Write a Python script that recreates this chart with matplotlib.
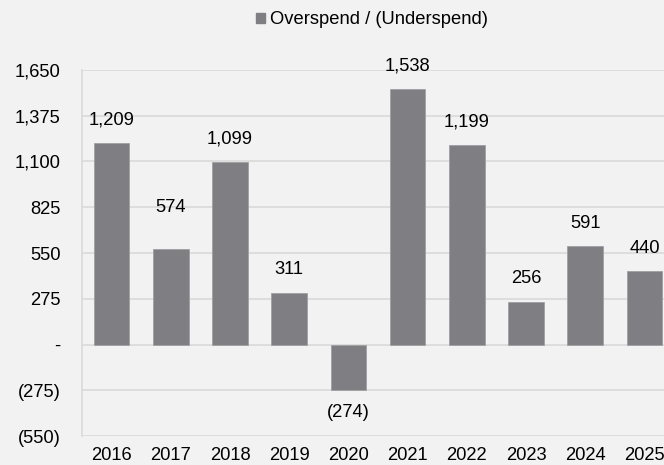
import matplotlib
matplotlib.use("Agg")
import matplotlib.pyplot as plt
from matplotlib.patches import Patch

years = ["2016", "2017", "2018", "2019", "2020", "2021", "2022", "2023", "2024", "2025"]
values = [1209, 574, 1099, 311, -274, 1538, 1199, 256, 591, 440]
yticks = [-550, -275, 0, 275, 550, 825, 1100, 1375, 1650]
series_name = "Overspend / (Underspend)"

def fmt(v):
    if v == 0:
        return "-"
    if v < 0:
        return "({:,})".format(-v)
    return "{:,}".format(v)

plt.rcParams['font.family'] = ['Liberation Sans', 'DejaVu Sans']
FS = 13.2
BG = "#f2f2f2"
BAR = "#7f7f83"
GRID = "#d9d9d9"

fig = plt.figure(figsize=(6.64, 4.65), dpi=100, facecolor=BG)
W, H = 664, 465
left, right = 82, 674
top, bottom = 70, 436
ax = fig.add_axes([left / W, 1 - bottom / H, (right - left) / W, (bottom - top) / H])
ax.set_facecolor(BG)

x = list(range(len(years)))
ax.bar(x, values, width=0.6, color=BAR, edgecolor="#a0a0a4", linewidth=0.6, zorder=3)

ax.set_xlim(-0.5, len(years) - 0.5)
ax.set_ylim(-550, 1650)
ax.set_yticks(yticks)
ax.set_yticklabels([fmt(v) for v in yticks], fontsize=FS)
ax.set_xticks(x)
ax.set_xticklabels(years, fontsize=FS)
ax.tick_params(axis="both", length=0, colors="black")
ax.tick_params(axis="y", pad=15.5)
ax.tick_params(axis="x", pad=8)
ax.yaxis.grid(True, color=GRID, linewidth=1.2, zorder=0)
for s in ["top", "right", "bottom"]:
    ax.spines[s].set_visible(False)
ax.spines["left"].set_color(GRID)
ax.spines["left"].set_linewidth(1.2)

offsets = {1: 42}
for i, v in enumerate(values):
    if v >= 0:
        off = offsets.get(i, 23)
        ax.annotate(fmt(v), (i, v), xytext=(0, off), textcoords="offset pixels",
                    ha="center", va="center", fontsize=FS, zorder=4)
    else:
        ax.annotate(fmt(v), (i, v), xytext=(0, -22), textcoords="offset pixels",
                    ha="center", va="center", fontsize=FS, zorder=4)

handle = Patch(facecolor=BAR, edgecolor=BAR)
fig.legend([handle], [series_name], loc="center", bbox_to_anchor=(372 / W, 1 - 20 / H),
           frameon=False, fontsize=FS, handlelength=0.5, handleheight=0.5,
           handletextpad=0.25, borderpad=0)

fig.savefig("out.png", dpi=100, facecolor=BG)
